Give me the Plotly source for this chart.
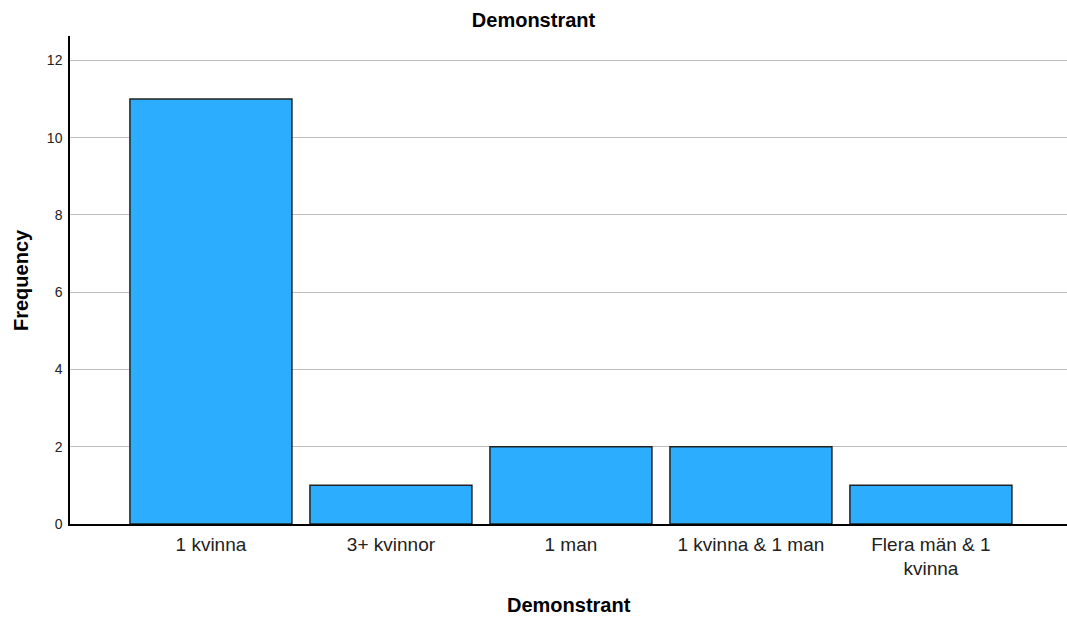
import plotly.graph_objects as go

categories = ["1 kvinna", "3+ kvinnor", "1 man", "1 kvinna & 1 man", "Flera män & 1<br>kvinna"]
frequencies = [11, 1, 2, 2, 1]
y_ticks = [0, 2, 4, 6, 8, 10, 12]

FONT = "Liberation Sans, Arial, sans-serif"

fig = go.Figure(
    go.Bar(
        x=list(range(len(categories))),
        y=frequencies,
        width=0.9,
        marker=dict(color="#2CADFE", line=dict(color="#222222", width=1.5)),
        hoverinfo="skip",
    )
)

fig.update_layout(
    width=1067,
    height=620,
    margin=dict(l=70, r=0, t=36, b=96),
    plot_bgcolor="white",
    paper_bgcolor="white",
    font=dict(family=FONT, color="#222222"),
    showlegend=False,
    title=dict(
        text="<b>Demonstrant</b>",
        x=0.5, xref="container", xanchor="center",
        y=1 - 19.5 / 620, yref="container", yanchor="middle",
        font=dict(family=FONT, size=20, color="#000000"),
    ),
    xaxis=dict(
        tickmode="array",
        tickvals=list(range(len(categories))),
        ticktext=categories,
        range=[-0.783, 4.756],
        showgrid=False,
        zeroline=False,
        showline=True,
        linecolor="#000000",
        linewidth=1.5,
        ticks="",
        ticklabelstandoff=2,
        tickfont=dict(family=FONT, size=19, color="#222222"),
    ),
    yaxis=dict(
        tickmode="array",
        tickvals=y_ticks,
        ticktext=[str(v) for v in y_ticks],
        range=[0, 12.63],
        showgrid=True,
        gridcolor="#BDBDBD",
        gridwidth=1,
        zeroline=False,
        showline=True,
        linecolor="#000000",
        linewidth=1.5,
        ticks="",
        ticklabelstandoff=3,
        tickfont=dict(family=FONT, size=14, color="#222222"),
    ),
    annotations=[
        dict(
            text="<b>Frequency</b>", textangle=-90,
            xref="paper", yref="paper",
            x=(21 - 70) / 997, y=0.5,
            xanchor="center", yanchor="middle",
            showarrow=False,
            font=dict(family=FONT, size=20, color="#000000"),
        ),
        dict(
            text="<b>Demonstrant</b>",
            xref="paper", yref="paper",
            x=0.5, y=(524.5 - 605.5) / 488,
            xanchor="center", yanchor="middle",
            showarrow=False,
            font=dict(family=FONT, size=20, color="#000000"),
        ),
    ],
)

fig.write_html(
    "out.html",
    config={"displayModeBar": False},
    post_script="document.body.style.margin='0';document.body.style.overflow='hidden';",
)
